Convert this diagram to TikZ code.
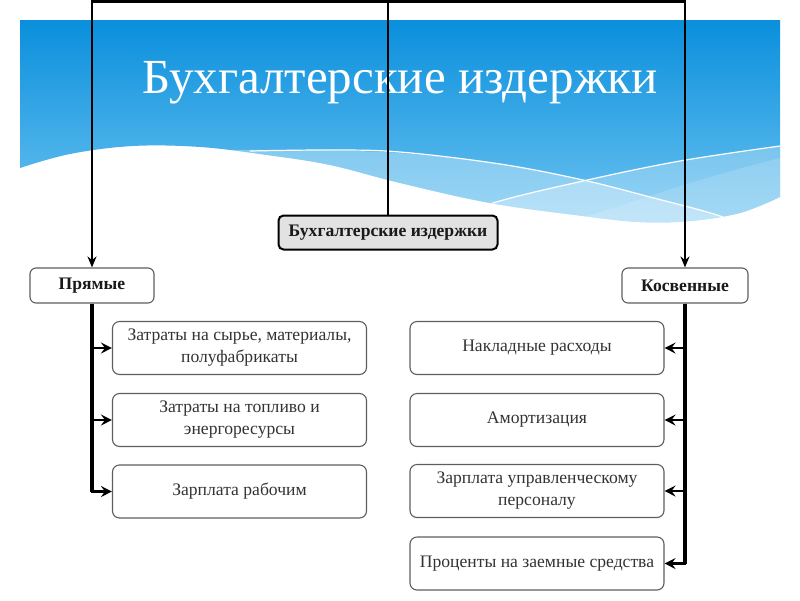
\documentclass[tikz,border=0pt]{standalone}
\usepackage{fontspec}
\setmainfont{Liberation Serif}
\usetikzlibrary{arrows.meta}
\definecolor{skytop}{HTML}{0A8FDC}
\definecolor{skybot}{HTML}{6CC3F1}
\definecolor{boxgray}{HTML}{5E5E5E}
\definecolor{txt}{HTML}{333333}
\definecolor{rootfill}{HTML}{E2E2E2}
\begin{document}
\begin{tikzpicture}[x=1pt,y=-1pt,
  leaf/.style={draw=boxgray, line width=1.1pt, rounded corners=7pt, fill=white,
    minimum width=254pt, minimum height=53pt, align=center, text=txt,
    inner sep=2pt, font=\fontsize{17.6}{22}\selectfont},
  cat/.style={draw=boxgray, line width=1.1pt, rounded corners=6pt, fill=white,
    minimum height=35pt, text=black!90, inner sep=2pt,
    font=\bfseries\fontsize{17.6}{18}\selectfont},
  rootbox/.style={draw=black, line width=2pt, rounded corners=5pt, fill=rootfill,
    minimum width=219pt, minimum height=34pt, text=black!90, inner sep=2pt,
    font=\bfseries\fontsize{17.6}{18}\selectfont},
  feed/.style={line width=2.2pt, -{Stealth[length=11pt,width=9pt]}},
  trunk/.style={line width=3.4pt},
  branch/.style={line width=2.2pt, -{Stealth[length=11pt,width=11pt,inset=4pt]}},
  waveline/.style={white, line width=1.2pt}
]
\useasboundingbox (0,0) rectangle (800,600);
% sky background
\def\skypath{(20,20) -- (780,20) -- (780,197) -- plot[smooth, tension=0.6] coordinates {(780,197) (740,213) (690,221) (640,222) (583,216) (490,203) (400,183) (330,165) (267,155) (200,147) (133,146) (70,154) (20,168)} -- cycle}
\shade[top color=skytop, bottom color=skybot] \skypath;
\begin{scope}
  \clip \skypath;
  \fill[white, fill opacity=0.33] plot[smooth, tension=0.6] coordinates {(200,150) (300,150) (400,153) (500,164) (583,180) (650,197) (717,215) (760,235)} -- (200,240) -- cycle;
  \fill[white, fill opacity=0.28] plot[smooth, tension=0.6] coordinates {(420,230) (493,203) (583,181) (680,161) (780,146) (800,143)} -- (800,240) -- cycle;
  \fill[white, fill opacity=0.15] plot[smooth, tension=0.6] coordinates {(500,240) (600,212) (700,180) (780,158) (800,155)} -- (800,240) -- cycle;
  \draw[waveline] plot[smooth, tension=0.6] coordinates {(250,151) (330,150) (400,152) (500,164) (583,180) (650,197) (717,215) (760,232)};
  \draw[waveline] plot[smooth, tension=0.6] coordinates {(440,225) (493,203) (583,181) (680,161) (780,146)};
\end{scope}
\node[white, font=\fontsize{49}{49}\selectfont, anchor=base] (title) at (400,93) {Бухгалтерские издержки};

% nodes
\node[rootbox] (root) at (388,232.5) {Бухгалтерские издержки};
\node[cat, minimum width=124pt] (pr) at (92,285.5) {Прямые};
\node[cat, minimum width=126pt] (ko) at (685,285.5) {Косвенные};

\node[leaf] (l1) at (239.5,348) {Затраты на сырье, материалы,\\полуфабрикаты};
\node[leaf] (l2) at (239.5,420) {Затраты на топливо и\\энергоресурсы};
\node[leaf] (l3) at (239.5,491.5) {Зарплата рабочим};

\node[leaf] (r1) at (537,348) {Накладные расходы};
\node[leaf] (r2) at (537,420) {Амортизация};
\node[leaf] (r3) at (537,491) {Зарплата управленческому\\персоналу};
\node[leaf] (r4) at (537,563.5) {Проценты на заемные средства};

% connectors
\coordinate (tl) at (92,1.5);
\coordinate (tr) at (685,1.5);
\draw[feed] (root.north) |- (tl) -- (pr.north);
\draw[feed] (root.north) |- (tr) -- (ko.north);

\coordinate (lend) at (pr.south |- l3.west);
\coordinate (rend) at (ko.south |- r4.east);
\draw[trunk] (pr.south) -- (lend);
\draw[trunk] (ko.south) -- (rend);

\draw[branch] (pr.south) |- (l1.west);
\draw[branch] (pr.south) |- (l2.west);
\draw[branch] (pr.south) |- (l3.west);

\draw[branch] (ko.south) |- (r1.east);
\draw[branch] (ko.south) |- (r2.east);
\draw[branch] (ko.south) |- (r3.east);
\draw[branch] (ko.south) |- (r4.east);
\end{tikzpicture}
\end{document}
